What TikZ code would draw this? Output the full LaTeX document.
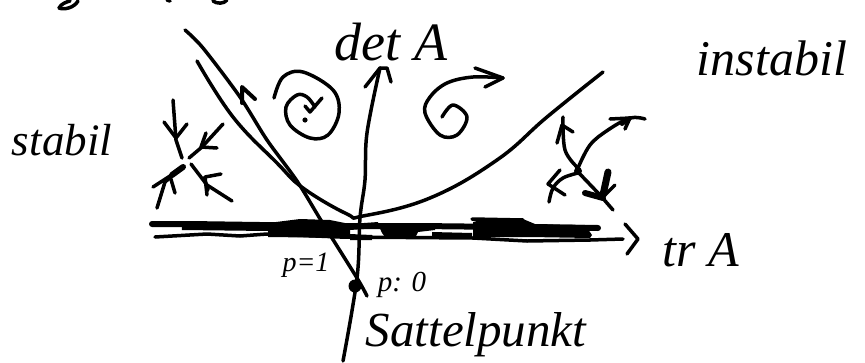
\documentclass[tikz,border=0pt]{standalone}
\usepackage{fontspec}
\setmainfont{Liberation Serif}
\begin{document}
\begin{tikzpicture}[x=1pt,y=-1pt,
  ink/.style={draw=black,line width=3.5pt,line cap=round,line join=round},
  heavy/.style={ink,line width=6pt},
  hand/.style={inner sep=0pt,text=black}]
\useasboundingbox (0,0) rectangle (865,362);
\fill[white] (0,0) rectangle (865,362);
% Stubs of a previous line of handwriting
\draw[ink] (59,8) .. controls (64,10) and (74,8) .. (78,1);
\draw[ink] (59,8) .. controls (61,4) and (66,2) .. (70,1);
\draw[ink] (167,0) -- (170,1);
\draw[ink] (213,1) .. controls (217,4) and (224,4) .. (227,0);
% Horizontal axis: many overlaid strokes
\draw[heavy] (152,224) -- (190,224) -- (260,225) -- (330,226) -- (420,226) -- (598,228);
\draw[ink,line width=8pt,line cap=butt] (182,226) -- (268,227);
\draw[ink] (155,237) -- (207,234) -- (240,236) -- (267,234) -- (340,237) -- (473,238) -- (527,241) -- (590,240);
\draw[ink] (590,240) -- (623,239);
\draw[ink] (472,219) -- (523,220);
\fill (268,223) -- (300,219) -- (330,220) -- (350,224) -- (350,238) -- (268,237) -- cycle;
\fill (350,224) -- (378,222) -- (378,228) -- (350,230) -- cycle;
\fill (350,234) -- (372,235) -- (372,240) -- (350,240) -- cycle;
\fill (378,224) -- (435,224) -- (435,230) -- (418,232) -- (415,238) -- (385,237) -- (382,233) -- cycle;
\fill (432,232) -- (472,233) -- (472,239) -- (432,238) -- cycle;
\fill (473,222) -- (490,218) -- (523,219) -- (535,224) -- (585,225) -- (592,235) -- (590,238) -- (530,237) -- (473,237) -- cycle;
\draw[ink] (625,224) -- (638,239) -- (627,254);
% Vertical axis
\coordinate (detBot) at (343,361);
\coordinate (detTip) at (380,68);
\draw[ink] plot[smooth,tension=0.6] coordinates {(detBot) (357,278) (360,218) (365,180) (367,133) (detTip)};
\draw[ink] (365,87) -- (380,68) -- (387,68) -- (391,82);
% Parabola
\draw[ink] plot[smooth,tension=0.7] coordinates {(197,61) (233,117) (277,163) (303,188) (347,214) (363,216) (430,198) (497,160) (547,117) (603,72)};
% Line p=1
\draw[ink] plot[smooth,tension=0.5] coordinates {(185,30) (203,48) (240,97) (267,140) (297,181) (322,222) (357,278) (367,296)};
\draw[heavy,line width=4pt] (242,103) -- (242,87) -- (255,99);
\fill (355,286) circle (6.5pt);
% Left spiral
\draw[ink] plot[smooth,tension=0.6] coordinates {(274,98) (283,77) (303,72) (333,90) (339,113) (328,135) (310,138) (290,125) (286,107) (297,95) (307,97) (315,107)};
\draw[ink] (322,98) -- (310,112) -- (305,106);
\fill (305,120) circle (2.6pt);
% Right spiral
\draw[ink] plot[smooth,tension=0.6] coordinates {(442,117) (453,105) (467,117) (457,135) (440,135) (425,113) (430,97) (447,83) (473,77) (503,78)};
\draw[ink] (475,68) -- (503,78) -- (485,87);
% Stable node
\draw[ink] (173,100) -- (176,140) -- (182,158);
\draw[ink] (164,122) -- (176,138) -- (187,124);
\draw[ink] (223,124) -- (202,147) -- (189,158);
\draw[ink] (206,133) -- (201,147) -- (217,148);
\draw[ink] (157,208) -- (165,182) -- (184,166);
\draw[heavy] (172,175) -- (183,167);
\draw[ink] (153,187) -- (170,176) -- (175,193);
\draw[ink] (191,164) -- (207,185) -- (232,201);
\draw[ink] (221,174) -- (205,177) -- (207,195);
\draw[ink] (204,178) -- (208,190);
% Saddle, right
\draw[ink] plot[smooth,tension=0.6] coordinates {(578,168) (565,150) (563,117)};
\draw[ink] (557,143) -- (562,125) -- (573,132);
\draw[ink] plot[smooth,tension=0.6] coordinates {(578,168) (590,145) (608,130) (630,118) (645,119)};
\draw[ink] (610,119) -- (630,118) -- (625,129);
\draw[heavy,line width=4pt] (630,118) -- (622,124);
\draw[ink] plot[smooth,tension=0.6] coordinates {(578,173) (563,178) (553,188) (549,202)};
\draw[ink] (560,170) -- (548,184) -- (565,195);
\fill (578,171) circle (4pt);
\draw[ink] (578,172) -- (600,195) -- (613,210);
\draw[heavy,line width=7pt] (608,172) -- (603,195);
\draw[heavy] (585,193) -- (603,198);
\draw[ink] (603,197) -- (615,185);
% Labels
\node[hand,font=\itshape\fontsize{45}{45}\selectfont] (lstabil) at (62,140) {stabil};
\node[hand,font=\itshape\fontsize{50}{50}\selectfont] (linst) at (772,58) {instabil};
\node[hand,font=\itshape\fontsize{54}{54}\selectfont] (ldet) at (391,42) {det A};
\node[hand,font=\itshape\fontsize{50}{50}\selectfont] (ltr) at (701,250) {tr A};
\node[hand,font=\itshape\fontsize{28}{28}\selectfont] (lp1) at (306,265) {p=1};
\node[hand,font=\itshape\fontsize{29}{29}\selectfont] (lp0) at (402,285) {p: 0};
\node[hand,font=\itshape\fontsize{49}{49}\selectfont] (lsat) at (476,335) {Sattelpunkt};
\end{tikzpicture}
\end{document}
